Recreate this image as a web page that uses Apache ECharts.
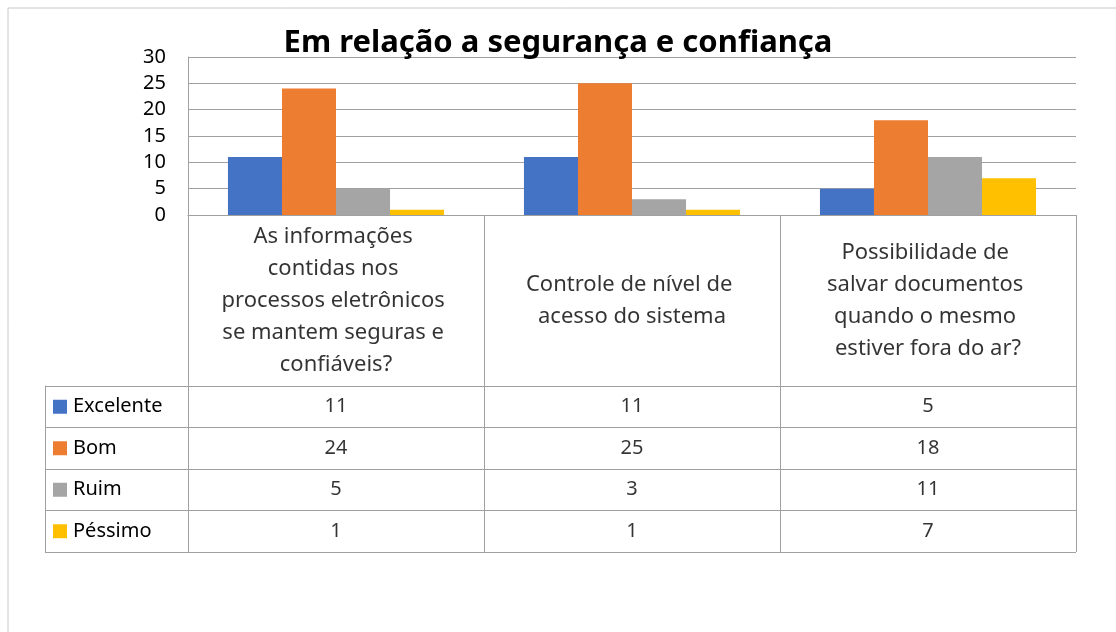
<!DOCTYPE html>
<html><head><meta charset="utf-8">
<script src="https://cdn.jsdelivr.net/npm/echarts@6/dist/echarts.min.js"></script>
<style>html,body{margin:0;padding:0;background:#fff}#c{width:1116px;height:632px}</style>
</head><body><div id="c"></div>
<script>
const chartTitle = 'Em relação a segurança e confiança';
const categories = [
  'As informações contidas nos processos eletrônicos se mantem seguras e confiáveis?',
  'Controle de nível de acesso do sistema',
  'Possibilidade de salvar documentos quando o mesmo estiver fora do ar?'
];
const seriesNames = ['Excelente', 'Bom', 'Ruim', 'Péssimo'];
const excelente = [11, 11, 5];
const bom = [24, 25, 18];
const ruim = [5, 3, 11];
const pessimo = [1, 1, 7];
const yMin = 0, yMax = 30, yInterval = 5;

const values = [excelente, bom, ruim, pessimo];
const colors = ['#4472C4', '#ED7D31', '#A5A5A5', '#FFC000'];
const lineColor = '#a0a0a0';
const FONT = 'Noto Sans';
const wrapWidths = [240, 240, 226];

const chart = echarts.init(document.getElementById('c'));

const tableData = [];
values.forEach((arr, s) => arr.forEach((v, i) => tableData.push([i, s, v])));

const rich = { t: { fontSize: 20, color: '#000', fontFamily: FONT, padding: [0, 0, 0, 6] } };
colors.forEach((c, i) => { rich['k' + i] = { width: 14, height: 14, backgroundColor: c }; });

const option = {
  backgroundColor: '#fff',
  textStyle: { fontFamily: FONT },
  title: {
    text: chartTitle, left: 'center', top: 23,
    textStyle: { fontSize: 31, fontWeight: 'bold', color: '#000', fontFamily: FONT }
  },
  graphic: [{
    type: 'rect', shape: { x: 8, y: 8, width: 1300, height: 900 },
    style: { fill: 'none', stroke: '#c8c8c8', lineWidth: 1 }, silent: true, z: -1
  }],
  grid: [
    { left: 188, right: 40, top: 57, height: 158 },
    { left: 188, right: 40, top: 215, height: 171 },
    { left: 188, right: 40, top: 386, height: 166 }
  ],
  xAxis: [
    { gridIndex: 0, type: 'category', data: categories, axisTick: { show: false }, axisLabel: { show: false },
      axisLine: { lineStyle: { color: lineColor } } },
    { gridIndex: 1, type: 'category', data: categories, axisTick: { show: false },
      axisLabel: { show: false, interval: 0 },
      axisLine: { show: false }, splitLine: { show: true, interval: 0, lineStyle: { color: lineColor } } },
    { gridIndex: 2, type: 'category', data: categories, axisTick: { show: false },
      axisLabel: { show: false, interval: 0 },
      axisLine: { show: false }, splitLine: { show: true, interval: 0, lineStyle: { color: lineColor } } }
  ],
  yAxis: [
    { gridIndex: 0, type: 'value', min: yMin, max: yMax, interval: yInterval,
      axisLine: { show: true, lineStyle: { color: lineColor } }, axisTick: { show: false },
      axisLabel: { fontSize: 20, color: '#000', margin: 22, fontFamily: FONT },
      splitLine: { lineStyle: { color: lineColor } } },
    { gridIndex: 1, type: 'value', min: 0, max: 1, show: false },
    { gridIndex: 2, type: 'category', data: seriesNames, inverse: true,
      axisLine: { show: true, lineStyle: { color: lineColor } },
      axisTick: { show: true, length: 143, interval: 0, lineStyle: { color: lineColor } },
      splitLine: { show: true, interval: 0, lineStyle: { color: lineColor } },
      axisLabel: { align: 'left', margin: 135, interval: 0,
        formatter: (v, i) => '{k' + i + '|}{t|' + v + '}', rich: rich } },
    { gridIndex: 2, type: 'category', data: seriesNames, inverse: true, position: 'left', offset: 143,
      axisLine: { show: true, lineStyle: { color: lineColor } }, axisTick: { show: false }, axisLabel: { show: false } }
  ],
  series: [
    ...seriesNames.map((n, s) => ({
      name: n, type: 'bar', xAxisIndex: 0, yAxisIndex: 0, data: values[s],
      itemStyle: { color: colors[s] }, barGap: '0%', barCategoryGap: '27%', silent: true
    })),
    { type: 'scatter', xAxisIndex: 1, yAxisIndex: 1, symbolSize: 1, itemStyle: { color: 'rgba(0,0,0,0)' },
      data: categories.map((c, i) => ({ value: [i, 0.5], label: { width: wrapWidths[i] } })), silent: true,
      label: { show: true, position: 'inside', formatter: p => categories[p.dataIndex],
        overflow: 'break', lineHeight: 32, fontSize: 22, color: '#000', align: 'center', fontFamily: FONT } },
    { type: 'scatter', xAxisIndex: 2, yAxisIndex: 2, symbolSize: 1, itemStyle: { color: 'rgba(0,0,0,0)' },
      data: tableData, silent: true,
      label: { show: true, position: 'inside', formatter: p => String(p.value[2]),
        fontSize: 20, color: '#000', fontFamily: FONT } }
  ]
};
chart.setOption(option);
</script></body></html>
